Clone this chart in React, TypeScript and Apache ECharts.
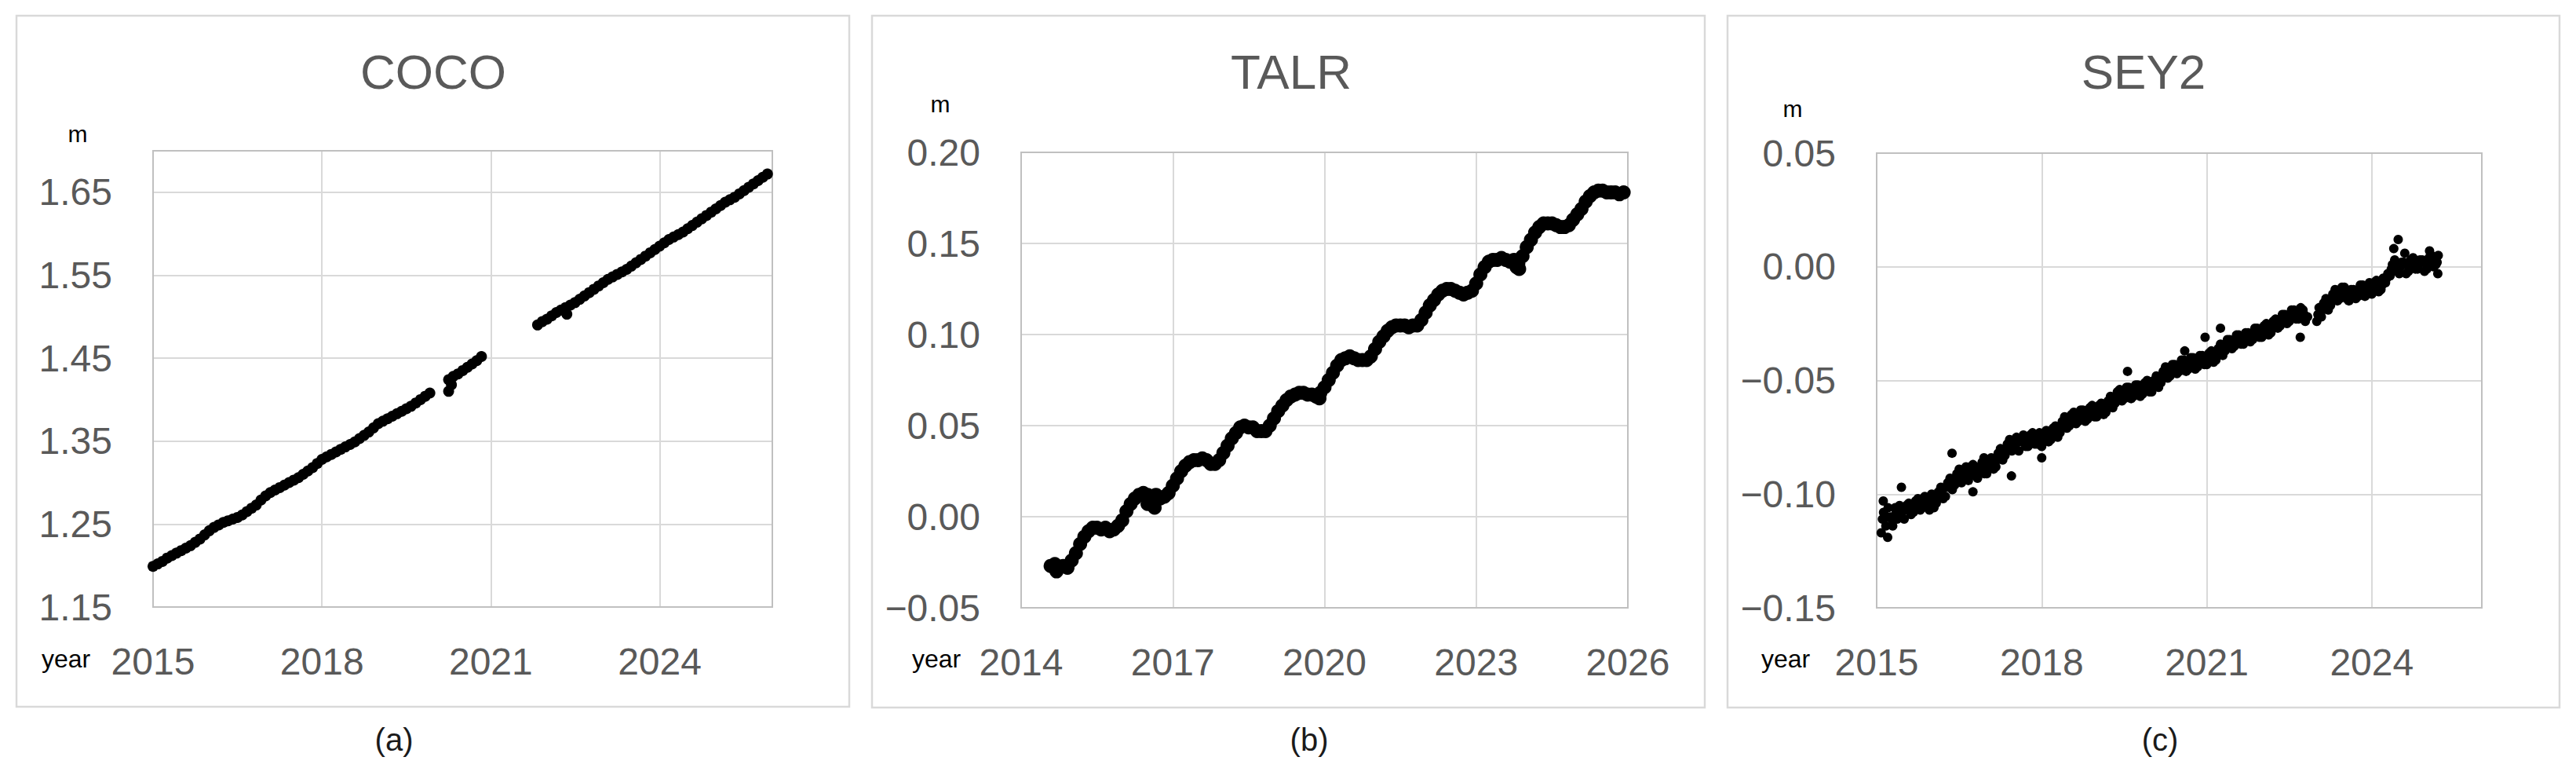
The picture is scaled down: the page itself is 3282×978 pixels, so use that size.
import React, { useEffect, useRef } from "react";
import * as echarts from "echarts";

// ---------------- DATA ----------------
// COCO (m), monthly samples, three segments separated by data gaps
const cocoSeg1Start = 2015.0;
const cocoSeg1 = [
  1.199, 1.202, 1.205, 1.209, 1.212, 1.215, 1.218, 1.221, 1.224, 1.228, 1.232, 1.237,
  1.242, 1.246, 1.249, 1.252, 1.254, 1.256, 1.258, 1.261, 1.265, 1.269, 1.273, 1.279,
  1.284, 1.288, 1.291, 1.294, 1.297, 1.300, 1.303, 1.306, 1.310, 1.314, 1.318, 1.323,
  1.328, 1.331, 1.334, 1.337, 1.340, 1.343, 1.346, 1.349, 1.353, 1.357, 1.361, 1.366,
  1.371, 1.374, 1.377, 1.380, 1.383, 1.386, 1.389, 1.392, 1.396, 1.400, 1.404, 1.408,
];
const cocoSeg2Start = 2020.25;
const cocoSeg2 = [1.424, 1.428, 1.431, 1.435, 1.439, 1.443, 1.447, 1.452];
const cocoSeg3Start = 2021.83;
const cocoSeg3 = [
  1.490, 1.494,
  1.497, 1.501, 1.505, 1.508, 1.511, 1.514, 1.517, 1.521, 1.525, 1.529, 1.533, 1.537,
  1.541, 1.545, 1.548, 1.551, 1.554, 1.557, 1.561, 1.565, 1.569, 1.573, 1.577, 1.581,
  1.585, 1.589, 1.593, 1.596, 1.599, 1.602, 1.606, 1.610, 1.614, 1.618, 1.622, 1.626,
  1.630, 1.634, 1.638, 1.641, 1.644, 1.648, 1.652, 1.656, 1.660, 1.664, 1.668, 1.672,
];
const cocoOutliers: [number, number][] = [
  [2020.25, 1.410], [2020.3, 1.418], [2022.35, 1.503],
];

// TALR (m), monthly samples from Aug 2014
const talrStart = 2014 + 7 / 12;
const talrValues = [
  -0.027, -0.026, -0.028, -0.027, -0.028,
  -0.024, -0.020, -0.015, -0.011, -0.008, -0.006, -0.006, -0.007, -0.006, -0.008, -0.007, -0.005,
  -0.002, 0.003, 0.007, 0.010, 0.012, 0.013, 0.012, 0.011, 0.012, 0.010, 0.011, 0.013,
  0.017, 0.021, 0.025, 0.028, 0.030, 0.031, 0.031, 0.032, 0.031, 0.029, 0.029, 0.031,
  0.035, 0.039, 0.043, 0.046, 0.049, 0.050, 0.049, 0.049, 0.047, 0.047, 0.047, 0.050,
  0.054, 0.058, 0.061, 0.064, 0.066, 0.067, 0.068, 0.068, 0.067, 0.067, 0.066, 0.068,
  0.071, 0.075, 0.079, 0.083, 0.086, 0.087, 0.088, 0.087, 0.086, 0.086, 0.086, 0.088,
  0.092, 0.096, 0.099, 0.102, 0.104, 0.105, 0.105, 0.105, 0.104, 0.105, 0.105, 0.108,
  0.112, 0.116, 0.119, 0.122, 0.124, 0.125, 0.125, 0.124, 0.123, 0.122, 0.123, 0.124,
  0.128, 0.133, 0.137, 0.140, 0.141, 0.141, 0.142, 0.141, 0.140, 0.141, 0.139, 0.143,
  0.148, 0.152, 0.156, 0.159, 0.161, 0.161, 0.161, 0.160, 0.159, 0.159, 0.160, 0.163,
  0.166, 0.169, 0.173, 0.176, 0.178, 0.179, 0.179, 0.178, 0.178, 0.178, 0.177, 0.178,
];
const talrOutliers: [number, number][] = [
  [2014.7, -0.030], [2016.5, 0.007], [2016.64, 0.005], [2019.9, 0.065],
  [2023.8, 0.137], [2023.85, 0.136],
];

// SEY2 (m), half-monthly samples from Feb 2015 (null = no data)
const sey2Start = 2015 + 1 / 12;
const sey2Values: (number | null)[] = [
  -0.117, -0.108, -0.114, -0.106, -0.110, -0.114, -0.106, -0.111, -0.105, -0.110, -0.111,
  -0.105, -0.104, -0.109, -0.108, -0.103, -0.102, -0.107, -0.106, -0.101, -0.103, -0.107,
  -0.100, -0.106, -0.104, -0.099, -0.097, -0.102, -0.101, -0.095, -0.093, -0.098, -0.096, -0.091,
  -0.089, -0.095, -0.093, -0.088, -0.094, -0.089, -0.087, -0.092, -0.093, -0.088, -0.086, -0.091,
  -0.091, -0.086, -0.084, -0.089, -0.088, -0.082, -0.080, -0.085, -0.083, -0.078, -0.076, -0.081,
  -0.080, -0.075, -0.081, -0.076, -0.074, -0.079, -0.079, -0.074, -0.073, -0.078, -0.078, -0.073,
  -0.079, -0.073, -0.072, -0.077, -0.076, -0.071, -0.070, -0.075, -0.073, -0.068, -0.066, -0.071,
  -0.070, -0.065, -0.064, -0.069, -0.068, -0.063, -0.063, -0.068, -0.067, -0.062, -0.061, -0.066,
  -0.066, -0.061, -0.060, -0.065, -0.064, -0.059, -0.057, -0.062, -0.060, -0.055, -0.054, -0.059,
  -0.058, -0.053, -0.053, -0.058, -0.057, -0.052, -0.052, -0.057, -0.056, -0.051, -0.050, -0.055,
  -0.055, -0.050, -0.048, -0.053, -0.051, -0.046, -0.044, -0.049, -0.048, -0.043, -0.043, -0.047,
  -0.046, -0.041, -0.041, -0.046, -0.045, -0.040, -0.040, -0.045, -0.044, -0.039, -0.039, -0.043,
  -0.043, -0.038, -0.037, -0.042, -0.041, -0.036, -0.034, -0.039, -0.037, -0.032, -0.032, -0.036,
  -0.035, -0.030, -0.030, -0.034, -0.034, -0.029, -0.029, -0.033, -0.032, -0.027, -0.027, -0.031,
  -0.031, -0.026, -0.025, -0.030, -0.029, -0.024, -0.023, -0.027, -0.026, -0.021, -0.021, -0.025,
  -0.024, -0.019, -0.019, -0.023, -0.023, -0.018, -0.019, -0.024, -0.022, null, null, null,
  -0.024, -0.018, -0.022, -0.016, -0.014, -0.019, -0.017, -0.012, -0.010, -0.015, -0.014, -0.009,
  -0.009, -0.014, -0.015, -0.010, -0.010, -0.014, -0.013, -0.008, -0.008, -0.013, -0.012, -0.007,
  -0.012, -0.007, -0.006, -0.011, -0.010, -0.005, -0.007, -0.003, -0.004, 0.001, 0.003, -0.002,
  -0.003, 0.002, 0.002, -0.003, -0.002, 0.003, 0.004, -0.001, -0.001, 0.003, 0.003, -0.002,
  -0.001, 0.004, 0.005, 0.000, 0.001, 0.005,
];
// SEY2 (m), mid-month samples from Feb 2015
const sey2MidStart = 2015 + 1 / 12 + 1 / 48;
const sey2Mid: (number | null)[] = [
  -0.111, -0.110, -0.111, -0.108, -0.108, -0.107, -0.107, -0.106, -0.104, -0.104, -0.104,
  -0.103, -0.101, -0.100, -0.097, -0.096, -0.093, -0.092, -0.091, -0.091, -0.089, -0.090, -0.088,
  -0.089, -0.086, -0.085, -0.082, -0.081, -0.078, -0.078, -0.077, -0.077, -0.076, -0.076, -0.075,
  -0.076, -0.074, -0.074, -0.072, -0.071, -0.068, -0.068, -0.066, -0.066, -0.065, -0.065, -0.063,
  -0.064, -0.062, -0.062, -0.059, -0.058, -0.056, -0.056, -0.055, -0.055, -0.054, -0.054, -0.052,
  -0.053, -0.050, -0.049, -0.046, -0.046, -0.044, -0.044, -0.043, -0.043, -0.042, -0.042, -0.040,
  -0.041, -0.039, -0.039, -0.036, -0.035, -0.033, -0.033, -0.031, -0.032, -0.030, -0.030, -0.028,
  -0.029, -0.027, -0.027, -0.024, -0.024, -0.022, -0.022, -0.020, -0.021, -0.021, null, null,
  -0.021, -0.019, -0.017, -0.014, -0.013, -0.011, -0.012, -0.012, -0.012, -0.010, -0.011, -0.009,
  -0.010, -0.008, -0.008, -0.005, -0.001, 0.000, 0.000, 0.001, 0.000, 0.001, 0.001, 0.002,
  0.001, 0.003, 0.002,
];
const sey2Outliers: [number, number][] = [
  [2015.12, -0.103], [2015.2, -0.119], [2015.45, -0.097], [2016.37, -0.082], [2016.75, -0.099],
  [2016.95, -0.084], [2017.45, -0.092], [2018.0, -0.084], [2019.56, -0.046], [2020.6, -0.037],
  [2020.97, -0.031], [2021.25, -0.027], [2022.7, -0.031], [2024.4, 0.008], [2024.48, 0.012],
  [2024.6, 0.006], [2025.05, 0.007], [2025.2, -0.003],
];

// Panel titles / captions / axis ranges
const stationNames = ["COCO", "TALR", "SEY2"];
const captions = ["(a)", "(b)", "(c)"];
const xRanges = [[2015, 2026], [2014, 2026], [2015, 2026]];
const yRanges = [[1.15, 1.70], [-0.05, 0.20], [-0.15, 0.05]];
const yIntervals = [0.1, 0.05, 0.05];
const xInterval = 3;

// ---------------- helpers ----------------
const samples = (start: number, step: number, vals: (number | null)[]) =>
  vals
    .map((v, i) => (v == null ? null : ([start + i * step, v] as [number, number])))
    .filter((p): p is [number, number] => p !== null);

const stationPoints: [number, number][][] = [
  [
    ...samples(cocoSeg1Start, 1 / 12, cocoSeg1),
    ...samples(cocoSeg2Start, 1 / 12, cocoSeg2),
    ...samples(cocoSeg3Start, 1 / 12, cocoSeg3),
    ...cocoOutliers,
  ],
  [...samples(talrStart, 1 / 12, talrValues), ...talrOutliers],
  [...samples(sey2Start, 1 / 24, sey2Values), ...samples(sey2MidStart, 1 / 12, sey2Mid), ...sey2Outliers],
];

// layout (pixels)
const FONT = "'Liberation Sans', Arial, sans-serif";
const grids = [
  { left: 195, top: 192, width: 789, height: 581 },
  { left: 1301, top: 194, width: 773, height: 580 },
  { left: 2391, top: 195, width: 771, height: 579 },
];
const panelBoxes = [
  { x: 21, y: 20, w: 1061, h: 880 },
  { x: 1111, y: 20, w: 1061, h: 881 },
  { x: 2201, y: 20, w: 1060, h: 881 },
];
const titleX = [552, 1645, 2731];
const mPos = [[99, 170], [1198, 132], [2284, 138]];
const yearX = [84, 1193, 2275];
const captionX = [502, 1668, 2752];
const symbolSizes = [14, 18, 12];
const showXMax = [false, true, false];
const showYMax = [false, true, true];

function fmtY(v: number, base: number) {
  let t = v + base;
  if (Math.abs(t) < 1e-9) t = 0;
  return t.toFixed(2).replace("-", "\u2212");
}

export default function App() {
  const ref = useRef<HTMLDivElement>(null);
  useEffect(() => {
    if (!ref.current) return;
    const chart = echarts.init(ref.current, undefined, { renderer: "svg" });

    const xAxis = grids.map((_, i) => {
      const [x0, x1] = xRanges[i];
      return {
        type: "value",
        gridIndex: i,
        min: 0,
        max: x1 - x0,
        interval: xInterval,
        axisLine: { show: true, onZero: false, lineStyle: { color: "#bfbfbf", width: 2 } },
        axisTick: { show: false },
        splitLine: { show: true, lineStyle: { color: "#d9d9d9", width: 2 } },
        axisLabel: {
          showMaxLabel: showXMax[i],
          showMinLabel: true,
          margin: 45,
          fontSize: 48,
          fontFamily: FONT,
          color: "#595959",
          formatter: (v: number) => String(Math.round(v + x0)),
        },
      };
    });
    const yAxis = grids.map((_, i) => {
      const [y0, y1] = yRanges[i];
      return {
        type: "value",
        gridIndex: i,
        min: 0,
        max: +(y1 - y0).toFixed(4),
        interval: yIntervals[i],
        axisLine: { show: true, onZero: false, lineStyle: { color: "#bfbfbf", width: 2 } },
        axisTick: { show: false },
        splitLine: { show: true, lineStyle: { color: "#d9d9d9", width: 2 } },
        axisLabel: {
          showMaxLabel: showYMax[i],
          showMinLabel: true,
          margin: 52,
          fontSize: 48,
          fontFamily: FONT,
          color: "#595959",
          formatter: (v: number) => fmtY(v, y0),
        },
      };
    });
    const series = stationPoints.map((pts, i) => ({
      type: "scatter",
      name: stationNames[i],
      xAxisIndex: i,
      yAxisIndex: i,
      symbol: "circle",
      symbolSize: symbolSizes[i],
      itemStyle: { color: "#000000", opacity: 1 },
      z: 5,
      data: pts.map(([x, y]) => [x - xRanges[i][0], y - yRanges[i][0]]),
    }));

    const graphic: any[] = [];
    panelBoxes.forEach((b) =>
      graphic.push({
        type: "rect",
        z: 0,
        shape: { x: b.x, y: b.y, width: b.w, height: b.h },
        style: { fill: "none", stroke: "#d9d9d9", lineWidth: 2.5 },
      })
    );
    grids.forEach((g) =>
      graphic.push({
        type: "rect",
        z: 3,
        shape: { x: g.left, y: g.top, width: g.width, height: g.height },
        style: { fill: "none", stroke: "#c0c0c0", lineWidth: 2 },
      })
    );
    stationNames.forEach((name, i) => {
      graphic.push({
        type: "text",
        x: titleX[i],
        y: 91,
        style: { text: name, fontSize: 62, fontFamily: FONT, fill: "#595959", align: "center", verticalAlign: "middle" },
      });
      graphic.push({
        type: "text",
        x: mPos[i][0],
        y: mPos[i][1],
        style: { text: "m", fontSize: 30, fontFamily: FONT, fill: "#000000", align: "center", verticalAlign: "middle" },
      });
      graphic.push({
        type: "text",
        x: yearX[i],
        y: 839,
        style: { text: "year", fontSize: 32, fontFamily: FONT, fill: "#000000", align: "center", verticalAlign: "middle" },
      });
      graphic.push({
        type: "text",
        x: captionX[i],
        y: 942,
        style: { text: captions[i], fontSize: 40, fontFamily: FONT, fill: "#1a1a1a", align: "center", verticalAlign: "middle" },
      });
    });

    chart.setOption({
      animation: false,
      backgroundColor: "#ffffff",
      grid: grids.map((g) => ({ ...g, containLabel: false })),
      xAxis,
      yAxis,
      series,
      graphic,
    });
    return () => chart.dispose();
  }, []);
  return (
    <div
      ref={ref}
      style={{ position: "fixed", left: 0, top: 0, width: 3282, height: 978, background: "#fff" }}
    />
  );
}
